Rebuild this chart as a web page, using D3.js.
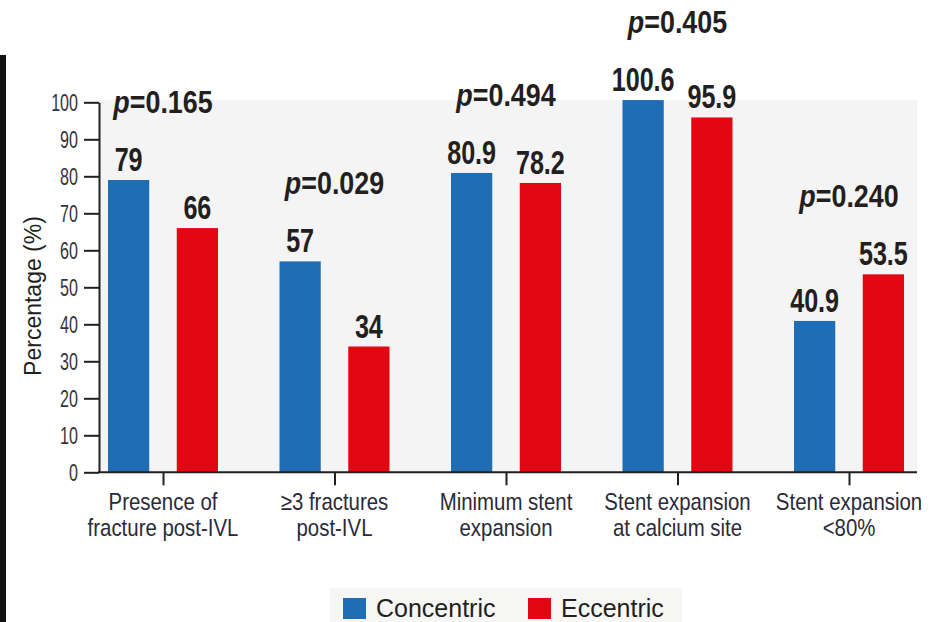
<!DOCTYPE html>
<html>
<head>
<meta charset="utf-8">
<script src="https://cdn.jsdelivr.net/npm/d3@7"></script>
<style>
  html, body { margin: 0; padding: 0; background: #fff; }
  svg { display: block; }
  .cond { font-family: 'Liberation Sans', Arial, sans-serif; }
  .sans { font-family: 'Liberation Sans', Arial, sans-serif; }
</style>
</head>
<body>
<svg id="chart" width="933" height="622"></svg>
<script>
const categories = [
  ["Presence of", "fracture post-IVL"],
  ["\u22653 fractures", "post-IVL"],
  ["Minimum stent", "expansion"],
  ["Stent expansion", "at calcium site"],
  ["Stent expansion", "<80%"]
];
const categoryKeys = ["presence", "ge3", "minimum", "calcium", "lt80"];
const seriesNames = ["Concentric", "Eccentric"];
const concentric = [79, 57, 80.9, 100.6, 40.9];
const eccentric = [66, 34, 78.2, 95.9, 53.5];
const concentricLabels = ["79", "57", "80.9", "100.6", "40.9"];
const eccentricLabels = ["66", "34", "78.2", "95.9", "53.5"];
const pValues = ["0.165", "0.029", "0.494", "0.405", "0.240"];
const yTicks = [0, 10, 20, 30, 40, 50, 60, 70, 80, 90, 100];
const colors = ["#1f6db4", "#e30613"];

const svg = d3.select("#chart");
const ink = "#231f20";

const x = d3.scalePoint().domain(categoryKeys).range([163, 849]);
const xs = d3.scaleBand().domain(seriesNames).range([-55, 55]).paddingInner(0.4).paddingOuter(0);
const y = d3.scaleLinear().domain([0, 100]).range([472.3, 102.3]);

// left black edge (scan border)
svg.append("rect").attr("x", 0).attr("y", 55).attr("width", 6).attr("height", 567).attr("fill", "#111");

// panel background
svg.append("rect").attr("x", 100).attr("y", 100).attr("width", 817).attr("height", y(0) - 100).attr("fill", "#f4f4f4");

const data = categoryKeys.map((k, i) => ({
  key: k,
  vals: [
    { s: seriesNames[0], v: concentric[i], label: concentricLabels[i], c: colors[0] },
    { s: seriesNames[1], v: eccentric[i], label: eccentricLabels[i], c: colors[1] }
  ],
  p: pValues[i]
}));

const g = svg.selectAll("g.grp").data(data).join("g").attr("class", "grp")
  .attr("transform", d => `translate(${x(d.key)},0)`);

g.selectAll("rect").data(d => d.vals).join("rect")
  .attr("x", d => xs(d.s))
  .attr("width", xs.bandwidth())
  .attr("y", d => y(d.v))
  .attr("height", d => y(0) - y(d.v))
  .attr("fill", d => d.c);

// value labels (condensed via horizontal scale)
g.selectAll("text.val").data(d => d.vals).join("text").attr("class", "val cond")
  .attr("transform", d => `translate(${xs(d.s) + xs.bandwidth() / 2},${y(d.v) - 9}) scale(0.74,1)`)
  .attr("text-anchor", "middle")
  .attr("font-size", 34)
  .attr("font-weight", "bold")
  .attr("fill", ink)
  .text(d => d.label);

// p-value labels
const pt = g.append("text").attr("class", "cond")
  .attr("transform", d => `translate(0,${y(d3.max(d.vals, v => v.v)) - 67}) scale(0.84,1)`)
  .attr("text-anchor", "middle")
  .attr("font-size", 32)
  .attr("font-weight", "bold")
  .attr("fill", ink);
pt.append("tspan").attr("font-style", "italic").text("p");
pt.append("tspan").text(d => "=" + d.p);

// y axis
const yAxis = d3.axisLeft(y).tickValues(yTicks).tickSize(15).tickSizeOuter(0).tickPadding(6);
const ya = svg.append("g").attr("transform", "translate(99,0)").call(yAxis);
ya.select(".domain").attr("stroke", ink).attr("stroke-width", 2);
ya.selectAll(".tick line").attr("stroke", ink).attr("stroke-width", 2);
ya.selectAll(".tick text").attr("class", "cond").attr("font-size", 23).attr("fill", "#34343f")
  .attr("x", null).attr("dy", "0.35em")
  .attr("transform", "translate(-21,0) scale(0.7,1)");

// x axis
const xAxis = d3.axisBottom(x).tickSize(13).tickFormat("");
const xa = svg.append("g").attr("transform", `translate(0,${y(0)})`).call(xAxis);
xa.select(".domain").remove();
xa.selectAll(".tick line").attr("stroke", ink).attr("stroke-width", 2);
svg.append("line").attr("x1", 98).attr("x2", 917).attr("y1", y(0)).attr("y2", y(0))
  .attr("stroke", ink).attr("stroke-width", 2);

// category labels
const cl = svg.selectAll("text.cat").data(categoryKeys).join("text").attr("class", "cat cond")
  .attr("transform", d => `translate(${x(d)},510) scale(0.85,1)`)
  .attr("text-anchor", "middle")
  .attr("font-size", 24)
  .attr("fill", "#2a2a3a");
cl.each(function(d, i) {
  const t = d3.select(this);
  categories[i].forEach((line, j) => {
    t.append("tspan").attr("x", 0).attr("dy", j === 0 ? 0 : 26).text(line);
  });
});

// y title
svg.append("text").attr("class", "sans")
  .attr("transform", "translate(41,296) rotate(-90)")
  .attr("text-anchor", "middle")
  .attr("font-size", 23)
  .attr("fill", ink)
  .text("Percentage (%)");

// legend
svg.append("rect").attr("x", 330).attr("y", 588).attr("width", 352).attr("height", 34).attr("fill", "#f6f6f4");
const legendX = [343, 528];
const lg = svg.selectAll("g.leg").data(seriesNames).join("g").attr("class", "leg")
  .attr("transform", (d, i) => `translate(${legendX[i]},598)`);
lg.append("rect").attr("width", 23).attr("height", 21).attr("fill", (d, i) => colors[i]);
lg.append("text").attr("class", "sans").attr("x", 33).attr("y", 19)
  .attr("font-size", 25).attr("fill", ink).text(d => d);
</script>
</body>
</html>
